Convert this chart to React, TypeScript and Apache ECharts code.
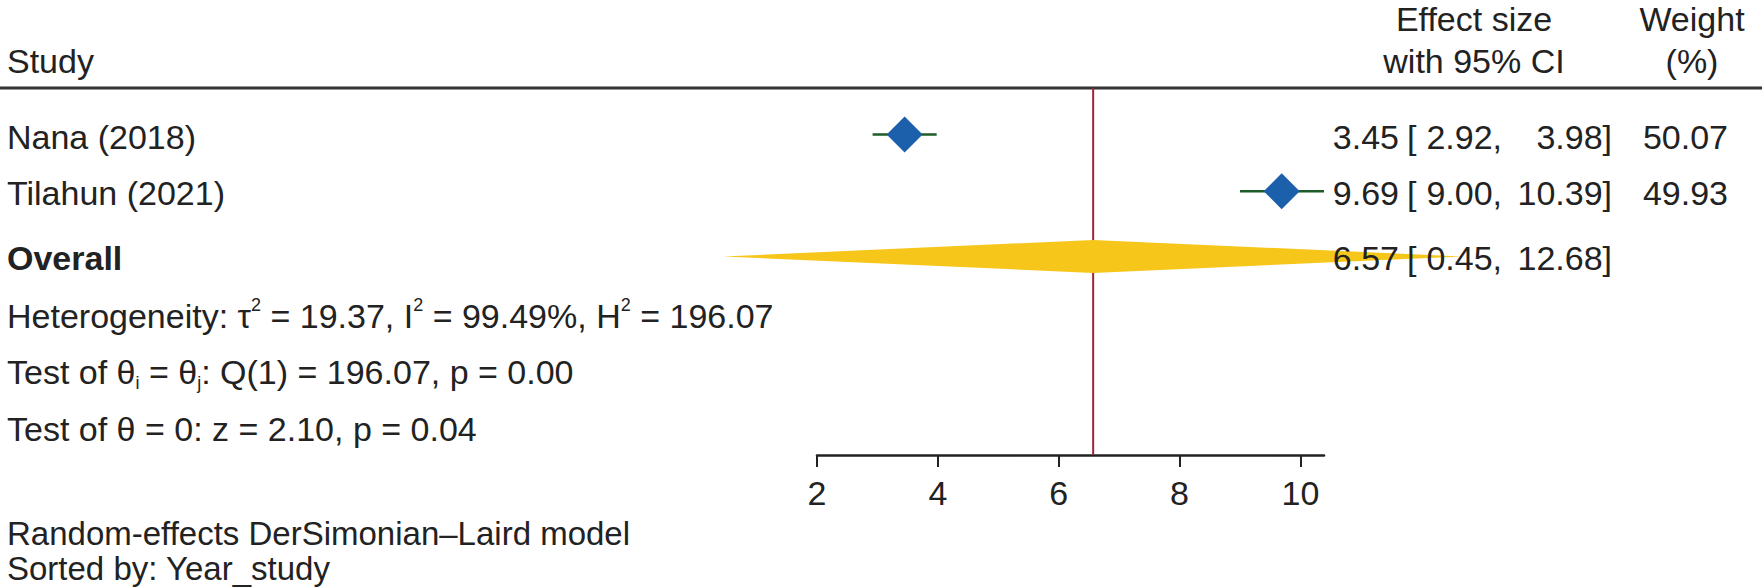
import React, { useEffect, useRef } from "react";
import * as echarts from "echarts";

// ---- data ----
const studies = ["Nana (2018)", "Tilahun (2021)"];
const effect = [3.45, 9.69];
const lower = [2.92, 9.0];
const upper = [3.98, 10.39];
const weight = [50.07, 49.93];
const studyRow = [0.82, 1.82];

const overallLabel = "Overall";
const overallEffect = 6.57;
const overallLower = 0.45;
const overallUpper = 12.68;
const overallRow = 2.97;

const xTicks = [2, 4, 6, 8, 10];
const xMin = 2;
const xMax = 10.39;

const tau2 = "19.37";
const i2 = "99.49%";
const h2 = "196.07";
const qStat = "196.07";
const qDf = 1;
const qP = "0.00";
const zStat = "2.10";
const zP = "0.04";
const modelNote = "Random-effects DerSimonian\u2013Laird model";
const sortNote = "Sorted by: Year_study";

const FONT = '"Liberation Sans", Arial, Helvetica, sans-serif';
const FS = 34;
const TXT = "#222222";
const BLUE = "#1c5fab";
const GREEN = "#1c5c28";
const GOLD = "#f7c61a";
const RED = "#a0233c";

const COL_ES_RIGHT = 1399;
const COL_BR_LEFT = 1407;
const COL_LO_RIGHT = 1502;
const COL_HI_RIGHT = 1612;
const COL_W_RIGHT = 1728;
const LEFT = 7;

function txt(x: number, y: number, text: string, align: string, bold = false, fs = FS) {
  return {
    type: "text",
    x,
    y,
    style: {
      text,
      fill: TXT,
      font: `${bold ? "bold " : ""}${fs}px ${FONT}`,
      fontFamily: FONT,
      fontSize: fs,
      fontWeight: bold ? "bold" : "normal",
      align,
      verticalAlign: "middle",
    },
  };
}

function esTexts(y: number, es: number, lo: number, hi: number) {
  return [
    txt(COL_ES_RIGHT, y, es.toFixed(2), "right"),
    txt(COL_BR_LEFT, y, "[", "left"),
    txt(COL_LO_RIGHT, y, lo.toFixed(2) + ",", "right"),
    txt(COL_HI_RIGHT, y, hi.toFixed(2) + "]", "right"),
  ];
}

export default function App() {
  const ref = useRef<HTMLDivElement>(null);
  useEffect(() => {
    if (!ref.current) return;
    const chart = echarts.init(ref.current, null, { renderer: "svg" });

    const richBase = {
      fontSize: FS,
      fontFamily: FONT,
      fill: TXT,
      lineHeight: 40,
    };
    const rich = {
      sup: { fontSize: 18, fontFamily: FONT, fill: TXT, verticalAlign: "top", lineHeight: 40 },
      sub: { fontSize: 18, fontFamily: FONT, fill: TXT, verticalAlign: "bottom", lineHeight: 40 },
    };
    const richText = (y: number, text: string) => ({
      type: "text",
      left: LEFT,
      top: y - 20,
      style: { ...richBase, text, rich, verticalAlign: "top", align: "left" },
    });

    const option: any = {
      animation: false,
      backgroundColor: "#ffffff",
      grid: { left: 817, top: 88, width: 507, height: 367, containLabel: false },
      xAxis: {
        type: "value",
        position: "bottom",
        min: xMin,
        max: xMax,
        interval: 2,
        splitLine: { show: false },
        axisLine: { show: true, onZero: false, lineStyle: { color: TXT, width: 2.5 } },
        axisTick: {
          show: true,
          length: 12,
          customValues: xTicks,
          lineStyle: { color: TXT, width: 2 },
        },
        axisLabel: {
          customValues: xTicks,
          fontSize: FS,
          fontFamily: FONT,
          color: TXT,
          margin: 21,
        },
      },
      yAxis: {
        type: "value",
        min: 0,
        max: 6.47,
        inverse: true,
        show: false,
      },
      graphic: [
        { type: "line", shape: { x1: 0, y1: 88, x2: 1762, y2: 88 }, style: { stroke: "#333", lineWidth: 3 } },
        { ...txt(LEFT, 61, "Study", "left") },
        { ...txt(1474, 19, "Effect size", "center") },
        { ...txt(1474, 61, "with 95% CI", "center") },
        { ...txt(1692, 19, "Weight", "center") },
        { ...txt(1692, 61, "(%)", "center") },
        richText(
          316,
          `Heterogeneity: \u03c4{sup|2} = ${tau2}, I{sup|2} = ${i2}, H{sup|2} = ${h2}`
        ),
        richText(
          372,
          `Test of \u03b8{sub|i} = \u03b8{sub|j}: Q(${qDf}) = ${qStat}, p = ${qP}`
        ),
        richText(429, `Test of \u03b8 = 0: z = ${zStat}, p = ${zP}`),
        { ...txt(LEFT, 533, modelNote, "left", false, 33) },
        { ...txt(LEFT, 568, sortNote, "left", false, 33) },
      ],
      series: [
        {
          type: "custom",
          clip: false,
          z: 2,
          data: [[overallEffect, overallLower, overallUpper, overallRow]],
          renderItem: (params: any, api: any) => {
            const es = api.value(0);
            const lo = api.value(1);
            const hi = api.value(2);
            const row = api.value(3);
            const c = api.coord([es, row]);
            const l = api.coord([lo, row]);
            const h = api.coord([hi, row]);
            const top = api.coord([es, 0]);
            const bot = api.coord([es, 6.47]);
            const hh = 16.5;
            return {
              type: "group",
              children: [
                {
                  type: "line",
                  shape: { x1: top[0], y1: top[1], x2: bot[0], y2: bot[1] },
                  style: { stroke: RED, lineWidth: 2 },
                },
                {
                  type: "polygon",
                  shape: {
                    points: [
                      [l[0], c[1]],
                      [c[0], c[1] - hh],
                      [h[0], c[1]],
                      [c[0], c[1] + hh],
                    ],
                  },
                  style: { fill: GOLD },
                },
                txt(LEFT, c[1] + 2, overallLabel, "left", true),
                ...esTexts(c[1] + 2, es, lo, hi),
              ],
            };
          },
        },
        {
          type: "custom",
          clip: false,
          z: 3,
          data: studies.map((s, i) => [effect[i], lower[i], upper[i], studyRow[i], weight[i]]),
          renderItem: (params: any, api: any) => {
            const i = params.dataIndex;
            const es = api.value(0);
            const lo = api.value(1);
            const hi = api.value(2);
            const row = api.value(3);
            const w = api.value(4);
            const c = api.coord([es, row]);
            const l = api.coord([lo, row]);
            const h = api.coord([hi, row]);
            const r = 18;
            return {
              type: "group",
              children: [
                {
                  type: "line",
                  shape: { x1: l[0], y1: l[1], x2: h[0], y2: h[1] },
                  style: { stroke: GREEN, lineWidth: 2.5 },
                },
                {
                  type: "polygon",
                  shape: {
                    points: [
                      [c[0] - r, c[1]],
                      [c[0], c[1] - r],
                      [c[0] + r, c[1]],
                      [c[0], c[1] + r],
                    ],
                  },
                  style: { fill: BLUE },
                },
                txt(LEFT, c[1] + 2, studies[i], "left"),
                ...esTexts(c[1] + 2, es, lo, hi),
                txt(COL_W_RIGHT, c[1] + 2, w.toFixed(2), "right"),
              ],
            };
          },
        },
      ],
    };
    chart.setOption(option);
    return () => chart.dispose();
  }, []);
  return (
    <div
      ref={ref}
      style={{ position: "fixed", left: 0, top: 0, width: 1762, height: 587, background: "#fff" }}
    />
  );
}
